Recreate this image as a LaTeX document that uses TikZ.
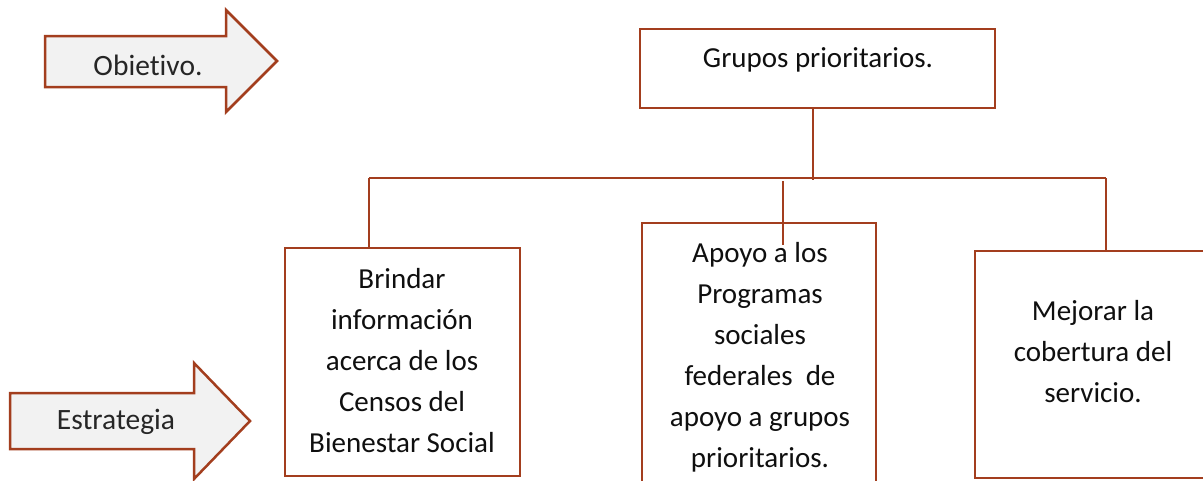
\documentclass[tikz,border=0pt]{standalone}
\usepackage{fontspec}
\setmainfont{Carlito}[Ligatures={NoCommon}]
\definecolor{edge}{RGB}{163,62,30}
\definecolor{arrowfill}{RGB}{242,242,242}
\definecolor{ink}{RGB}{15,15,15}
\begin{document}
\begin{tikzpicture}[x=1pt,y=-1pt,
  line join=miter,
  boxstyle/.style={draw=edge, line width=2.5pt, fill=white, inner sep=0pt, outer sep=0pt},
  arrowshape/.style={draw=edge, line width=2.5pt, fill=arrowfill},
  conn/.style={draw=edge, line width=2.5pt},
  label/.style={font=\fontsize{29}{41}\selectfont, text=ink, align=center, inner sep=0pt},
  alabel/.style={font=\fontsize{29.5}{34}\selectfont, text={rgb,255:red,38;green,38;blue,38}, inner sep=0pt}]
\useasboundingbox (0,0) rectangle (1203,480);
\clip (0,0) rectangle (1203,480);
\fill[white] (0,0) rectangle (1203,480);

% arrows
\draw[arrowshape] (45,36) -- (226,36) -- (226,10) -- (277,61) -- (226,112) -- (226,87) -- (45,87) -- cycle;
\node[alabel] (obj) at (148,65) {Obietivo.};
\draw[arrowshape] (10,393) -- (194,393) -- (194,363) -- (250,421) -- (194,479) -- (194,449) -- (10,449) -- cycle;
\node[alabel] (est) at (116,422) {Estrategia};

% boxes
\node[boxstyle, minimum width=355pt, minimum height=79pt] (top) at (817.5,68.5) {};
\node[boxstyle, minimum width=235pt, minimum height=228pt] (left) at (402.5,362) {};
\node[boxstyle, minimum width=234pt, minimum height=277pt] (mid) at (759,361.5) {};
\node[boxstyle, minimum width=255pt, minimum height=227pt] (right) at (1102.5,364.5) {};

% connectors
\coordinate (hub) at (813,180);
\coordinate (hl) at (369,178);
\coordinate (hr) at (1106,178);
\coordinate (ms) at (783,181);
\coordinate (me) at (783,245);
\draw[conn] (top.south -| hub) -- (hub);
\draw[conn] (hl) -- (hr);
\draw[conn] (hl) -- (hl |- left.north);
\draw[conn] (hr) -- (hr |- right.north);
\draw[conn] (ms) -- (me);

% texts
\node[label] (ttop) at (818,60) {Grupos prioritarios.};
\node[label] (tleft) at (402,361) {Brindar\\información\\acerca de los\\Censos del\\Bienestar Social};
\node[label] (tmid) at (760,357) {Apoyo a los\\Programas\\sociales\\federales\ \ de\\apoyo a grupos\\prioritarios.};
\node[label] (tright) at (1093,352) {Mejorar la\\cobertura del\\servicio.};
\end{tikzpicture}
\end{document}
